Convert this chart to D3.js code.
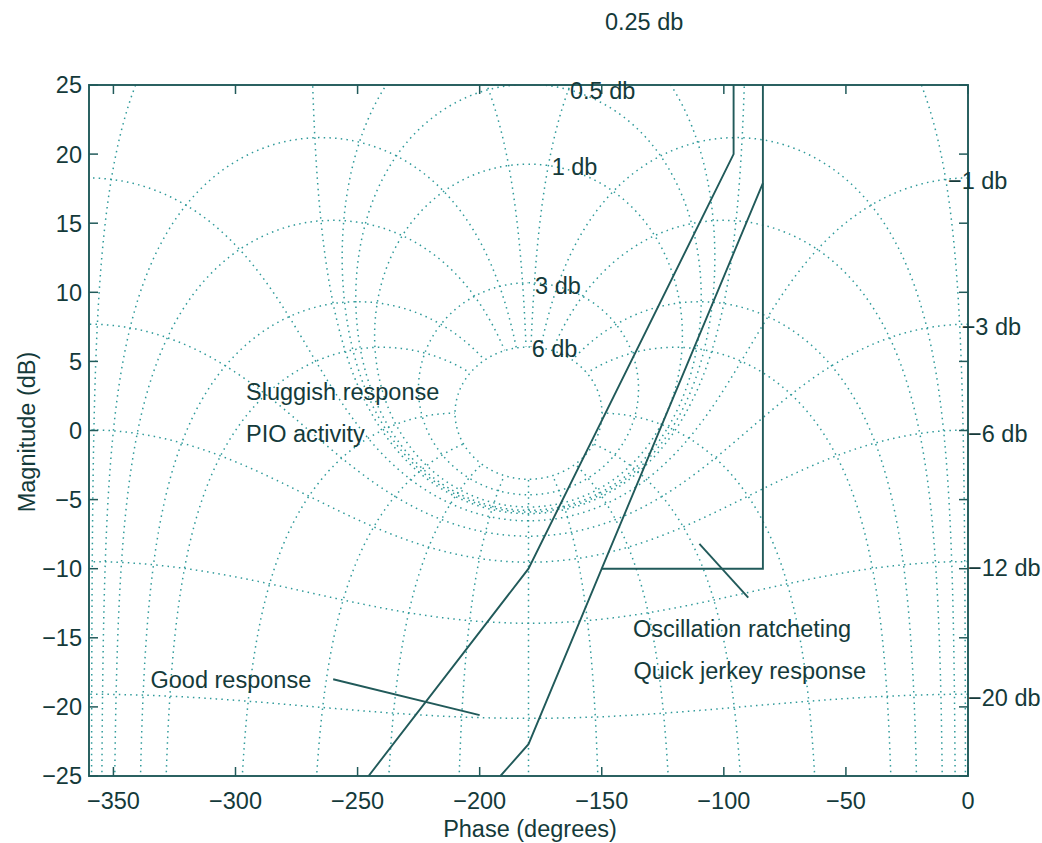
<!DOCTYPE html>
<html>
<head>
<meta charset="utf-8">
<script src="https://cdn.jsdelivr.net/npm/d3@7/dist/d3.min.js"></script>
<style>
  body { margin: 0; background: #fff; }
  text { font-family: "Liberation Sans", Arial, Helvetica, sans-serif; fill: #143a3a; }
</style>
</head>
<body>
<div id="chart"></div>
<script>
// Nichols grid: closed-loop gain contours (dB) and closed-loop phase contours (deg)
var clGains = [6, 3, 1, 0.5, 0.25, 0, -1, -3, -6, -12, -20, -40];
var clPhases = [-1, -5, -10, -20, -30, -60, -90, -120, -150, -180,
                -210, -240, -270, -300, -330, -340, -350, -355, -359];
var clPhaseMaxGain = 6; // phase contours stop on the 6 db circle

// grid labels (text, phase, magnitude of label anchor)
var gridLabelText  = ["0.25 db", "0.5 db", "1 db", "3 db", "6 db", "\u22121 db", "\u22123 db", "\u22126 db", "\u221212 db", "\u221220 db"];
var gridLabelPhase = [-148.7, -163.0, -170.5, -177.3, -178.7, -8.2, -2.6, 0, 0, 0];
var gridLabelMag   = [29.6, 24.6, 19.1, 10.5, 5.9, 18.1, 7.5, -0.2, -9.9, -19.3];

// axis ticks
var xTicks = [-350, -300, -250, -200, -150, -100, -50, 0];
var yTicks = [-25, -20, -15, -10, -5, 0, 5, 10, 15, 20, 25];

// criteria boundaries [phase, dB]
var goodBoundary  = [[-245.5, -25], [-180, -10], [-96, 20], [-96, 25]];
var quickBoundary = [[-191.5, -25], [-180, -22.7], [-150, -10], [-84, 17.9]];
var oscBoundary   = [[-150, -10], [-84, -10], [-84, 25]];
var goodPointer   = [[-260, -18], [-200, -20.6]];
var oscPointer    = [[-110, -8.2], [-90, -12.1]];

// region annotations
var noteText  = ["Sluggish response", "PIO activity", "Oscillation ratcheting", "Quick jerkey response", "Good response"];
var notePhase = [-295.7, -295.7, -137.2, -137.0, -334.8];
var noteMag   = [2.8, -0.2, -14.3, -17.4, -18.0];

var width = 1042, height = 843;
var svg = d3.select("#chart").append("svg")
  .attr("width", width).attr("height", height);

var x = d3.scaleLinear().domain([-360, 0]).range([89, 968]);
var y = d3.scaleLinear().domain([-25, 25]).range([776, 85]);

var axisColor = "#215a5a", gridColor = "#2f9a9a", fs = 23.5;

svg.append("clipPath").attr("id", "plotclip")
  .append("rect").attr("x", 89).attr("y", 85).attr("width", 879).attr("height", 691);

var line = d3.line().x(function(d) { return x(d[0]); }).y(function(d) { return y(d[1]); });

function toDb(v) { return Math.max(-80, Math.min(80, 20 * Math.log10(v))); }

// open-loop G = T/(1-T) for closed-loop T = M e^{j th}
function openLoop(M, thDeg, unwrap) {
  var th = thDeg * Math.PI / 180;
  var tr = M * Math.cos(th), ti = M * Math.sin(th);
  var dr = 1 - tr, di = -ti;
  var den = dr * dr + di * di;
  var gr = (tr * dr + ti * di) / den, gi = (ti * dr - tr * di) / den;
  var mag = toDb(Math.sqrt(gr * gr + gi * gi));
  var ph;
  if (unwrap) {
    ph = thDeg - Math.atan2(di, dr) * 180 / Math.PI;
  } else {
    ph = Math.atan2(gi, gr) * 180 / Math.PI;
    if (ph > 0) ph -= 360;
  }
  return [ph, mag];
}

var grid = svg.append("g").attr("clip-path", "url(#plotclip)");

clGains.forEach(function(g) {
  var M = Math.pow(10, g / 20), pts = [];
  var start = g === 0 ? -0.05 : 0, end = g === 0 ? -359.95 : -360;
  for (var t = start; t >= end; t -= 0.1) pts.push(openLoop(M, t, M <= 1));
  grid.append("path").attr("d", line(pts))
    .attr("fill", "none").attr("stroke", gridColor).attr("stroke-width", 1.5)
    .attr("stroke-dasharray", "1.5,4.2");
});

clPhases.forEach(function(p) {
  var pts = [];
  for (var db = -80; db <= clPhaseMaxGain; db += 0.02) pts.push(openLoop(Math.pow(10, db / 20), p, false));
  grid.append("path").attr("d", line(pts))
    .attr("fill", "none").attr("stroke", gridColor).attr("stroke-width", 1.5)
    .attr("stroke-dasharray", "1.5,4.2");
});

// criteria lines
var marks = svg.append("g").attr("clip-path", "url(#plotclip)");
[goodBoundary, quickBoundary, oscBoundary, goodPointer, oscPointer].forEach(function(d) {
  marks.append("path").attr("d", line(d))
    .attr("fill", "none").attr("stroke", axisColor).attr("stroke-width", 1.9);
});

// axes box + ticks
svg.append("rect").attr("x", 89).attr("y", 85).attr("width", 879).attr("height", 691)
  .attr("fill", "none").attr("stroke", axisColor).attr("stroke-width", 1.9);

var tl = 9;
xTicks.forEach(function(t) {
  svg.append("line").attr("x1", x(t)).attr("x2", x(t)).attr("y1", 776).attr("y2", 776 - tl)
    .attr("stroke", axisColor).attr("stroke-width", 1.5);
  svg.append("line").attr("x1", x(t)).attr("x2", x(t)).attr("y1", 85).attr("y2", 85 + tl)
    .attr("stroke", axisColor).attr("stroke-width", 1.5);
  svg.append("text").attr("x", x(t)).attr("y", 809).attr("text-anchor", "middle")
    .attr("font-size", fs).text(t < 0 ? "\u2212" + Math.abs(t) : t);
});
yTicks.forEach(function(t) {
  svg.append("line").attr("x1", 89).attr("x2", 89 + tl).attr("y1", y(t)).attr("y2", y(t))
    .attr("stroke", axisColor).attr("stroke-width", 1.5);
  svg.append("line").attr("x1", 968).attr("x2", 968 - tl).attr("y1", y(t)).attr("y2", y(t))
    .attr("stroke", axisColor).attr("stroke-width", 1.5);
  svg.append("text").attr("x", 82).attr("y", y(t)).attr("dy", "0.36em").attr("text-anchor", "end")
    .attr("font-size", fs).text(t < 0 ? "\u2212" + Math.abs(t) : t);
});

// grid labels
gridLabelText.forEach(function(s, i) {
  svg.append("text").attr("x", x(gridLabelPhase[i])).attr("y", y(gridLabelMag[i]))
    .attr("dy", "0.36em").attr("font-size", fs).text(s);
});

// annotations
noteText.forEach(function(s, i) {
  svg.append("text").attr("x", x(notePhase[i])).attr("y", y(noteMag[i]))
    .attr("dy", "0.36em").attr("font-size", fs).text(s);
});

// axis titles
svg.append("text").attr("x", 530).attr("y", 837).attr("text-anchor", "middle")
  .attr("font-size", fs).text("Phase (degrees)");
svg.append("text").attr("transform", "translate(35,432) rotate(-90)")
  .attr("text-anchor", "middle").attr("font-size", fs).text("Magnitude (dB)");
</script>
</body>
</html>
